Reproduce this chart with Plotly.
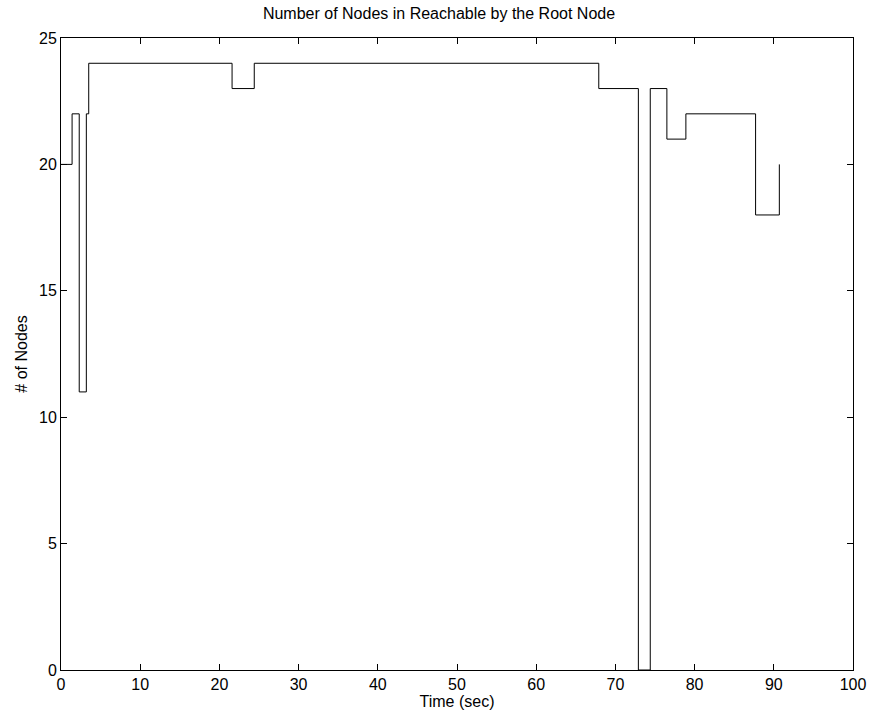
import plotly.graph_objects as go

time_sec = [0, 1.4, 2.3, 3.2, 3.5, 21.6, 24.4, 67.9, 72.9, 74.4, 76.5, 78.9, 87.7, 90.7]
num_nodes = [20, 22, 11, 22, 24, 23, 24, 23, 0, 23, 21, 22, 18, 20]

x_ticks = [0, 10, 20, 30, 40, 50, 60, 70, 80, 90, 100]
y_ticks = [0, 5, 10, 15, 20, 25]

fig = go.Figure()
fig.add_trace(go.Scatter(
    x=time_sec, y=num_nodes, mode="lines", line_shape="hv",
    line=dict(color="black", width=1), showlegend=False,
))

font = "Liberation Sans, Arial, Helvetica, sans-serif"
axis_common = dict(
    showgrid=False, zeroline=False, showline=True, linecolor="black", linewidth=1,
    mirror="ticks", ticks="inside", ticklen=6, tickcolor="black", tickwidth=1,
    tickfont=dict(family=font, size=16, color="black"),
)
fig.update_layout(
    width=878, height=721,
    margin=dict(l=61, r=20, t=38, b=51),
    paper_bgcolor="white", plot_bgcolor="white",
    title=dict(text="Number of Nodes in Reachable by the Root Node",
               x=0.5, xanchor="center", y=1 - 13 / 721, yanchor="middle",
               font=dict(family=font, size=16, color="black")),
    xaxis=dict(range=[0, 100], tickvals=x_ticks,
               title=dict(text="Time (sec)", font=dict(family=font, size=16, color="black"), standoff=3),
               **axis_common),
    yaxis=dict(range=[0, 25], tickvals=y_ticks,
               title=dict(text="# of Nodes", font=dict(family=font, size=16, color="black"), standoff=7),
               **axis_common),
)
fig.write_html("out.html")
